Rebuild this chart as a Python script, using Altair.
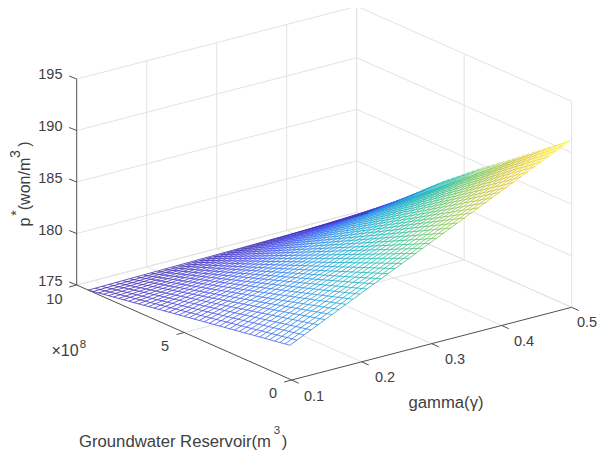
import altair as alt
import pandas as pd
import numpy as np

# ---- values ----
GAMMA_NODES = [0.10,0.11,0.12,0.13,0.14,0.15,0.16,0.17,0.18,0.19,0.20,0.21,0.22,0.23,0.24,0.25,0.26,0.27,0.28,0.29,0.30,
               0.31,0.32,0.33,0.34,0.35,0.36,0.37,0.38,0.39,0.40,0.41,0.42,0.43,0.44,0.45,0.46,0.47,0.48,0.49,0.50]
R_NODES = [0.08,0.31,0.55,0.78,1.02,1.25,1.49,1.72,1.96,2.19,2.43,2.66,2.89,3.13,3.36,3.60,3.83,4.07,4.30,4.54,4.77,
           5.00,5.24,5.47,5.71,5.94,6.18,6.41,6.65,6.88,7.12,7.35,7.58,7.82,8.05,8.29,8.52,8.76,8.99,9.23,9.46]
# edge R ~ 0, one value per gamma node
P_R_LOW = [178.30,178.62,178.94,179.26,179.58,179.90,180.22,180.54,180.86,181.18,181.50,181.82,182.14,182.46,182.78,183.10,183.42,183.74,184.04,184.36,184.66,
           184.98,185.30,185.62,185.94,186.26,186.56,186.88,187.20,187.52,187.84,188.14,188.46,188.80,189.12,189.46,189.78,190.12,190.44,190.76,191.10]
# edge R ~ 9.46, one value per gamma node
P_R_HIGH = [175.00,175.00,175.00,175.01,175.01,175.02,175.02,175.03,175.03,175.04,175.04,175.05,175.05,175.06,175.06,175.07,175.07,175.08,175.08,175.09,175.10,
            175.11,175.12,175.13,175.14,175.15,175.16,175.17,175.18,175.20,175.21,175.23,175.25,175.27,175.29,175.31,175.33,175.36,175.39,175.42,175.45]
# edge gamma = 0.1, one value per R node
P_G_LOW = [178.30,178.22,178.13,178.05,177.97,177.89,177.80,177.72,177.64,177.56,177.47,177.39,177.31,177.23,177.14,177.06,176.98,176.90,176.81,176.73,176.65,
           176.57,176.48,176.40,176.32,176.24,176.15,176.07,175.99,175.91,175.82,175.74,175.66,175.58,175.49,175.41,175.33,175.25,175.16,175.08,175.00]
# edge gamma = 0.5, one value per R node
P_G_HIGH = [191.10,190.74,190.37,190.01,189.65,189.28,188.90,188.53,188.15,187.78,187.40,187.02,186.65,186.29,185.93,185.57,185.21,184.85,184.47,184.08,183.70,
            183.31,182.92,182.54,182.15,181.75,181.32,180.89,180.46,180.03,179.60,179.17,178.75,178.35,177.95,177.55,177.15,176.75,176.35,175.90,175.45]
Z_TICKS = [175, 180, 185, 190, 195]
G_TICKS = [0.1, 0.2, 0.3, 0.4, 0.5]
R_TICKS = [0, 5, 10]

# ---- styles ----
PARULA = [(0.0,(62,38,168)),(0.14,(71,82,244)),(0.29,(39,150,235)),(0.43,(18,190,187)),(0.52,(45,192,150)),
          (0.62,(129,204,89)),(0.75,(204,191,51)),(0.875,(252,207,48)),(1.0,(249,251,21))]
TEXT = "#404040"
GRID = "#e3e3e3"
AXIS = "#505050"
FONT = "Liberation Sans"
P_MIN, P_MAX = 175.0, 191.1


def px(g, r, z):
    """Orthographic view of the 3D box, in page pixels."""
    g = (np.asarray(g, float) - 0.1) / 0.4
    r = np.asarray(r, float) / 10.0
    z = np.asarray(z, float) - 175.0
    return 291.7 + 280.0 * g - 215.0 * r, 380.0 - 72.7 * g - 95.0 * r - 10.3 * z


X = alt.X("x:Q", scale=alt.Scale(domain=[8, 598], nice=False, zero=False), axis=None)
Y = alt.Y("y:Q", scale=alt.Scale(domain=[450, 8], nice=False, zero=False), axis=None)


def segs(rows, color, width):
    recs = []
    for (a, b) in rows:
        x0, y0 = px(*a)
        x1, y1 = px(*b)
        recs.append(dict(x=float(x0), y=float(y0), x2=float(x1), y2=float(y1)))
    return alt.Chart(pd.DataFrame(recs)).mark_rule(color=color, strokeWidth=width).encode(
        x=X, y=Y, x2="x2:Q", y2="y2:Q")


# grid lines and box
grid_rows = []
for z in Z_TICKS:
    grid_rows.append(((0.1, 10, z), (0.5, 10, z)))
    grid_rows.append(((0.5, 10, z), (0.5, 0, z)))
for g in G_TICKS[1:]:
    grid_rows.append(((g, 10, 175), (g, 10, 195)))
    grid_rows.append(((g, 0, 175), (g, 10, 175)))
for r in R_TICKS:
    grid_rows.append(((0.5, r, 175), (0.5, r, 195)))
for r in R_TICKS[1:]:
    grid_rows.append(((0.1, r, 175), (0.5, r, 175)))
grid = segs(grid_rows, GRID, 1)


def cmap(p):
    f = (p - P_MIN) / (P_MAX - P_MIN)
    offs = [s[0] for s in PARULA]
    c = [np.interp(f, offs, [s[1][i] for s in PARULA]) for i in range(3)]
    return "#%02x%02x%02x" % tuple(int(round(v)) for v in c)


def mesh_line(g0, r0, p0, g1, r1, p1):
    x0, y0 = px(g0, r0, p0)
    x1, y1 = px(g1, r1, p1)
    if x0 > x1:
        x0, y0, p0, x1, y1, p1 = x1, y1, p1, x0, y0, p0
    stops = [alt.GradientStop(color=cmap(p0 + (p1 - p0) * t), offset=t) for t in (0, .2, .4, .6, .8, 1)]
    grad = alt.LinearGradient(gradient="linear", stops=stops, x1=0, x2=1, y1=0, y2=0)
    df = pd.DataFrame({"x": [float(x0), float(x1)], "y": [float(y0), float(y1)]})
    return alt.Chart(df).mark_line(color=grad, strokeWidth=0.8).encode(x=X, y=Y)


mesh = []
for i, g in enumerate(GAMMA_NODES):
    mesh.append(mesh_line(g, R_NODES[0], P_R_LOW[i], g, R_NODES[-1], P_R_HIGH[i]))
for j, r in enumerate(R_NODES):
    mesh.append(mesh_line(GAMMA_NODES[0], r, P_G_LOW[j], GAMMA_NODES[-1], r, P_G_HIGH[j]))

# white face of the surface, hides the grid behind it
cx, cy = px([0.1, 0.1, 0.5, 0.5], [R_NODES[-1], R_NODES[0], R_NODES[-1], R_NODES[0]],
            [P_G_LOW[-1], P_G_LOW[0], P_G_HIGH[-1], P_G_HIGH[0]])
xs = sorted(cx)
top = np.interp(xs, [cx[0], cx[2], cx[3]], [cy[0], cy[2], cy[3]])
bot = np.interp(xs, [cx[0], cx[1], cx[3]], [cy[0], cy[1], cy[3]])
face = alt.Chart(pd.DataFrame({"x": xs, "y": top, "y2": bot})).mark_area(color="white", opacity=1).encode(
    x=X, y=Y, y2="y2:Q")

# axes
axis_rows = [((0.1, 10, 175), (0.1, 10, 195)), ((0.1, 10, 175), (0.1, 0, 175)), ((0.1, 0, 175), (0.5, 0, 175))]
axes = segs(axis_rows, AXIS, 1)
tick_recs = []
for z in Z_TICKS:
    x0, y0 = px(0.1, 10, z)
    tick_recs.append(dict(x=float(x0), y=float(y0), x2=float(x0) - 7.5, y2=float(y0) - 3.0))
for g in G_TICKS:
    x0, y0 = px(g, 0, 175)
    tick_recs.append(dict(x=float(x0), y=float(y0), x2=float(x0) + 7.0, y2=float(y0) + 3.2))
for r in R_TICKS:
    x0, y0 = px(0.1, r, 175)
    tick_recs.append(dict(x=float(x0), y=float(y0), x2=float(x0) - 7.5, y2=float(y0) + 2.0))
ticks = alt.Chart(pd.DataFrame(tick_recs)).mark_rule(color=AXIS, strokeWidth=1).encode(
    x=X, y=Y, x2="x2:Q", y2="y2:Q")


def labels(recs, align="center", angle=0, size=14.5):
    return alt.Chart(pd.DataFrame(recs)).mark_text(
        align=align, baseline="middle", font=FONT, fontSize=size, color=TEXT, angle=angle
    ).encode(x=X, y=Y, text="t:N")


right_lab = [dict(t=str(z), x=62.5, y=y) for z, y in zip(Z_TICKS, [282, 231, 179, 127, 75])]
right_lab.append(dict(t="10", x=62.5, y=300))
center_lab = [dict(t="5", x=165, y=347), dict(t="0", x=273, y=394),
              dict(t="0.1", x=314, y=397), dict(t="0.2", x=385, y=378), dict(t="0.3", x=455, y=360),
              dict(t="0.4", x=524, y=342), dict(t="0.5", x=587, y=323)]
title_center = [dict(t="gamma(\u03b3)", x=446, y=403), dict(t=")", x=284.5, y=442)]
times = [dict(t="\u00d710", x=65, y=351)]
sup_lab = [dict(t="8", x=83, y=345), dict(t="3", x=277, y=431)]
left_lab = [dict(t="Groundwater Reservoir(m", x=79, y=442)]
rot_lab = [dict(t="p", x=25, y=222), dict(t="(won/m", x=25, y=184), dict(t=")", x=25, y=144)]
rot_sup = [dict(t="*", x=16.5, y=213), dict(t="3", x=15.5, y=154)]

chart = alt.layer(
    grid, face, *mesh, axes, ticks,
    labels(right_lab, align="right"), labels(center_lab), labels(times, size=16),
    labels(title_center, size=16.7), labels(left_lab, align="left", size=16.7),
    labels(sup_lab, size=11.5), labels(rot_lab, angle=270, size=16), labels(rot_sup, angle=270, size=14),
).properties(
    width=590, height=442, padding=0, autosize=alt.AutoSizeParams(type="none")
).configure_view(stroke=None)

chart.save("out.html", embed_options={"renderer": "svg", "actions": False})
